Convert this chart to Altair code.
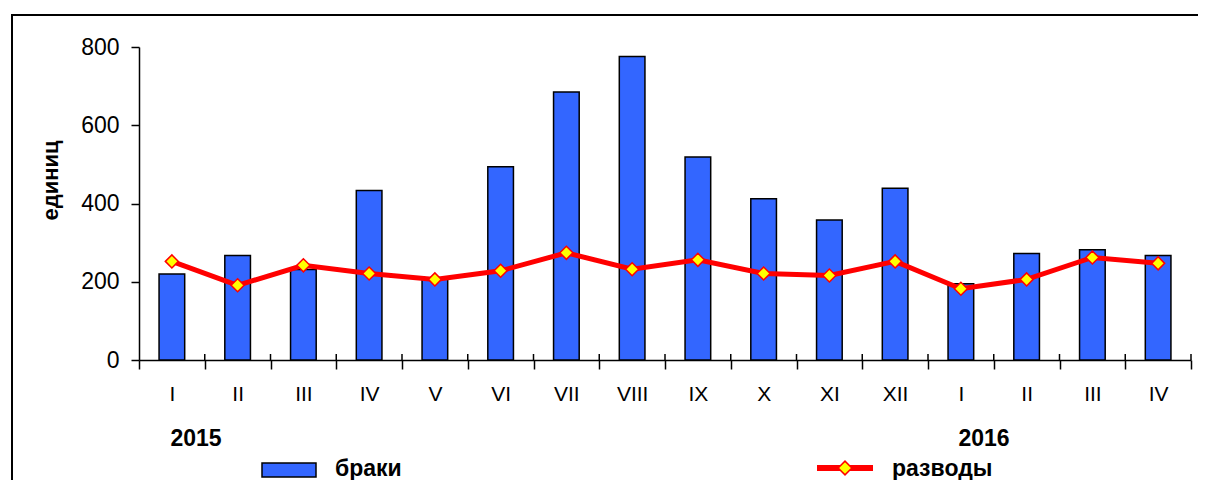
import altair as alt
import pandas as pd

months = ["I", "II", "III", "IV", "V", "VI", "VII", "VIII", "IX", "X", "XI", "XII",
          "I", "II", "III", "IV"]
years = ["2015"] * 12 + ["2016"] * 4
marriages = [220, 267, 231, 433, 208, 494, 685, 776, 519, 412, 358, 439, 195, 272, 282, 267]
divorces = [252, 191, 242, 221, 206, 228, 274, 232, 256, 221, 216, 252, 182, 206, 262, 247]
y_ticks = [0, 200, 400, 600, 800]
year_labels = ["2015", "2016"]
legend_labels = ["браки", "разводы"]
axis_title = "единиц"

FONT = "Liberation Sans"
BLUE = "#3366FF"
RED = "#FF0000"
YELLOW = "#FFFF00"

keys = [f"{m}|{y}" for m, y in zip(months, years)]
df = pd.DataFrame({"key": keys, "marriages": marriages, "divorces": divorces})

x_enc = alt.X(
    "key:N", sort=keys,
    scale=alt.Scale(paddingInner=0, paddingOuter=0),
    axis=alt.Axis(
        title=None, labelAngle=0, labelExpr="split(datum.label, '|')[0]",
        tickBand="extent", tickSize=9, labelPadding=14,
        labelFontSize=21,
    ),
)
y_scale = alt.Scale(domain=[0, 800], nice=False)

bars = alt.Chart(df).mark_bar(
    color=BLUE, stroke="black", strokeWidth=1.5,
    width=alt.RelativeBandSize(0.39),
).encode(
    x=x_enc,
    y=alt.Y("marriages:Q", scale=y_scale, axis=alt.Axis(
        values=y_ticks, title=axis_title, tickSize=8, labelPadding=12,
        titleFontWeight="bold", titleFontSize=22, titleAngle=270,
        titleX=-82, titleY=133, titleBaseline="alphabetic", titleAlign="center",
        labelFontSize=23, grid=False,
    )),
)

# upper halves of the x-axis ticks (ticks cross the axis line)
up_ticks = alt.Chart(df).mark_rule(color="black", strokeWidth=1.5).encode(
    x=alt.X("key:N", sort=keys, bandPosition=1),
    y=alt.value(307), y2=alt.value(313),
)

line = alt.Chart(df).mark_line(color=RED, strokeWidth=5).encode(
    x=alt.X("key:N", sort=keys), y=alt.Y("divorces:Q", scale=y_scale),
)
points = alt.Chart(df).mark_point(
    shape="diamond", filled=True, fill=YELLOW, stroke=RED, strokeWidth=1.5,
    size=170, opacity=1,
).encode(
    x=alt.X("key:N", sort=keys), y=alt.Y("divorces:Q", scale=y_scale),
)

one = alt.Data(values=[{"a": 1}])


def label(text, x, y, align):
    return alt.Chart(one).mark_text(
        font=FONT, fontSize=23, fontWeight="bold", color="black",
        align=align, baseline="middle",
    ).encode(x=alt.value(x), y=alt.value(y), text=alt.value(text))


year1 = label(year_labels[0], 57, 392, "center")
year2 = label(year_labels[1], 845, 392, "center")

leg_rect = alt.Chart(one).mark_rect(color=BLUE, stroke="black", strokeWidth=1.5).encode(
    x=alt.value(123), x2=alt.value(177), y=alt.value(416), y2=alt.value(430)
)
leg_text1 = label(legend_labels[0], 196, 422, "left")
leg_line = alt.Chart(one).mark_rule(color=RED, strokeWidth=6).encode(
    x=alt.value(678), x2=alt.value(734), y=alt.value(421)
)
leg_point = alt.Chart(one).mark_point(
    shape="diamond", filled=True, fill=YELLOW, stroke=RED, strokeWidth=1.5,
    size=190, opacity=1,
).encode(x=alt.value(706), y=alt.value(421))
leg_text2 = label(legend_labels[1], 753, 422, "left")

frame_top = alt.Chart(one).mark_rule(color="black", strokeWidth=2).encode(
    x=alt.value(-128), x2=alt.value(1059), y=alt.value(-32)
)
frame_left = alt.Chart(one).mark_rule(color="black", strokeWidth=2).encode(
    x=alt.value(-127), y=alt.value(-33), y2=alt.value(440)
)

chart = alt.layer(
    bars, up_ticks, line, points, year1, year2, leg_rect, leg_text1, leg_line,
    leg_point, leg_text2, frame_top, frame_left,
).properties(
    width=1052, height=313,
    padding={"left": 131, "top": 39, "right": 7, "bottom": 120},
    autosize=alt.AutoSizeParams(type="none"),
    background="white",
).configure_view(
    stroke="transparent"
).configure_axis(
    labelFont=FONT, titleFont=FONT, labelColor="black", titleColor="black",
    domainColor="black", domainWidth=1.5, tickColor="black", tickWidth=1.5,
)

chart.save("out.html", embed_options={"renderer": "svg", "actions": False})
